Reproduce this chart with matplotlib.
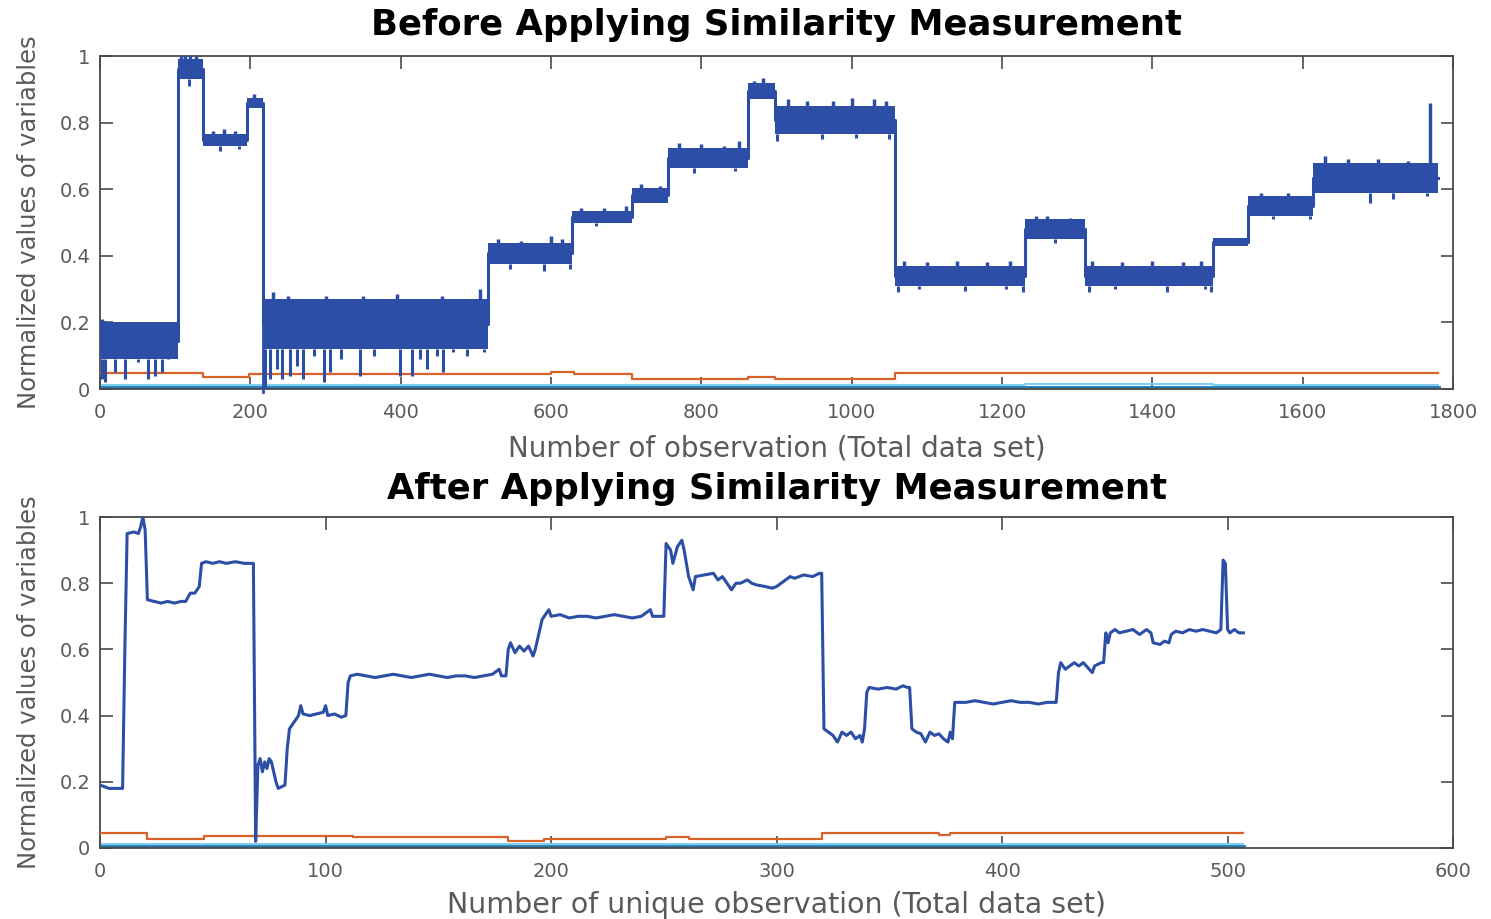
import matplotlib
matplotlib.use("Agg")
import matplotlib.pyplot as plt
import numpy as np

plt.rcParams['font.family'] = ['DejaVu Sans']

# ---- full data set (before similarity measurement) ----
# noisy plateaus: start, end, band low, band high
seg_start = [0, 104, 137, 195, 217, 516, 628, 707, 756, 862, 898, 1058, 1231, 1310, 1481, 1527, 1614]
seg_end = [104, 137, 195, 217, 516, 628, 707, 756, 862, 898, 1058, 1231, 1310, 1481, 1527, 1614, 1780]
seg_low = [0.09, 0.93, 0.73, 0.845, 0.12, 0.375, 0.50, 0.56, 0.665, 0.87, 0.765, 0.31, 0.45, 0.31, 0.43, 0.52, 0.59]
seg_high = [0.20, 0.99, 0.765, 0.875, 0.27, 0.44, 0.535, 0.605, 0.725, 0.92, 0.85, 0.37, 0.51, 0.37, 0.455, 0.58, 0.68]

# downward spikes
dip_x = [3, 7, 20, 33, 50, 64, 73, 82, 90, 118, 160, 185,
         219, 226, 235, 242, 253, 262, 270, 285, 298, 306, 320, 346, 365, 380,
         399, 415, 425, 435, 448, 456, 470, 488, 500, 511,
         545, 590, 625, 660, 790, 845, 900, 960, 1005, 1050,
         1062, 1090, 1150, 1205, 1228, 1270, 1315, 1350, 1420, 1470, 1478,
         1560, 1610, 1690, 1720, 1765]
dip_y = [0.03, 0.02, 0.05, 0.03, 0.08, 0.03, 0.04, 0.05, 0.10, 0.91, 0.715, 0.72,
         0.00, 0.03, 0.06, 0.03, 0.04, 0.07, 0.03, 0.10, 0.02, 0.05, 0.09, 0.04, 0.10, 0.12,
         0.04, 0.04, 0.09, 0.06, 0.10, 0.05, 0.11, 0.10, 0.12, 0.11,
         0.36, 0.355, 0.36, 0.49, 0.65, 0.655, 0.745, 0.75, 0.755, 0.75,
         0.29, 0.30, 0.295, 0.30, 0.29, 0.44, 0.29, 0.30, 0.29, 0.30, 0.29,
         0.51, 0.51, 0.56, 0.57, 0.58]
# upward spikes
peak_x = [2, 108, 113, 120, 128, 150, 165, 180, 205,
          230, 250, 300, 350, 395, 455, 505,
          530, 560, 600, 615, 640, 670, 700, 720, 745, 770, 800, 830, 850, 870, 882,
          915, 940, 975, 1000, 1030, 1045, 1070, 1100, 1140, 1180, 1210,
          1245, 1260, 1290, 1320, 1360, 1400, 1440, 1465,
          1545, 1580, 1630, 1660, 1700, 1740, 1769]
peak_y = [0.21, 1.0, 1.02, 1.01, 1.0, 0.775, 0.78, 0.775, 0.885,
          0.29, 0.28, 0.28, 0.28, 0.285, 0.28, 0.30,
          0.45, 0.445, 0.46, 0.45, 0.545, 0.545, 0.55, 0.615, 0.61, 0.74, 0.735, 0.73, 0.745, 0.925, 0.935,
          0.87, 0.865, 0.865, 0.875, 0.87, 0.865, 0.385, 0.38, 0.385, 0.38, 0.385,
          0.52, 0.52, 0.515, 0.385, 0.38, 0.385, 0.38, 0.385,
          0.59, 0.59, 0.70, 0.69, 0.69, 0.685, 0.86]

top_orange_x = [0, 137, 198, 600, 630, 707, 862, 898, 1058, 1780]
top_orange_y = [0.048, 0.037, 0.046, 0.050, 0.044, 0.030, 0.037, 0.030, 0.048, 0.048]

# ---- unique observations (after similarity measurement) ----
bx = [0, 4, 10, 11, 12, 15, 17, 18, 19, 20, 21, 24, 27, 30, 33, 36, 38, 40, 42, 44, 45, 47, 50, 53, 56, 60, 64,
      68, 69, 70, 71, 72, 73, 74, 75, 76, 78, 79, 82, 83, 84, 86, 88, 89, 90, 93, 96, 99, 100, 101, 104, 107,
      109, 110, 111, 114, 118, 122, 126, 130, 134, 138, 142, 146, 150, 154, 158, 162, 166, 170, 174, 177, 178,
      180, 181, 182, 184, 186, 188, 190, 192, 193, 196, 197, 199, 200, 204, 208, 212, 216, 220, 224, 228, 232, 236,
      240, 244, 245, 248, 250, 251, 253, 254, 256, 258, 259, 261, 263, 264, 268, 272, 274, 276, 278, 280, 282, 284,
      287, 289, 291, 295, 298, 300, 302, 304, 306, 308, 312, 316, 319, 320, 321, 323, 325, 327, 329, 331, 333,
      335, 337, 338, 339, 340, 341, 345, 349, 353, 356, 358, 359, 360, 362, 364, 366, 368, 370, 372, 374, 376, 377,
      378, 379, 384, 388, 392, 396, 400, 404, 408, 412, 416, 420, 424, 425, 426, 428, 430, 432, 434, 436, 438,
      440, 441, 444, 445, 446, 447, 448, 450, 452, 455, 458, 461, 464, 466, 467, 470, 472, 474, 475, 477, 480, 483,
      486, 489, 492, 495, 497, 498, 499, 500, 501, 503, 505, 507]
by = [0.19, 0.18, 0.18, 0.60, 0.95, 0.955, 0.95, 0.97, 1.0, 0.96, 0.75, 0.745, 0.74, 0.745, 0.74, 0.745,
      0.745, 0.77, 0.77, 0.79, 0.86, 0.865, 0.86, 0.865, 0.86, 0.865, 0.86,
      0.86, 0.02, 0.25, 0.27, 0.23, 0.26, 0.24, 0.27, 0.26, 0.20, 0.18, 0.19, 0.30, 0.36, 0.38, 0.40, 0.43,
      0.405, 0.40, 0.405, 0.41, 0.43, 0.40, 0.405, 0.395,
      0.40, 0.50, 0.52, 0.525, 0.52, 0.515, 0.52, 0.525, 0.52, 0.515, 0.52, 0.525, 0.52, 0.515, 0.52, 0.52,
      0.515, 0.52, 0.525, 0.54, 0.52,
      0.52, 0.60, 0.62, 0.59, 0.61, 0.595, 0.61, 0.58, 0.60, 0.69, 0.70, 0.72, 0.70, 0.705, 0.695, 0.70, 0.70,
      0.695, 0.70, 0.705, 0.70, 0.695,
      0.70, 0.72, 0.70, 0.70, 0.70, 0.92, 0.90, 0.86, 0.91, 0.93, 0.90, 0.82, 0.78, 0.82, 0.825, 0.83, 0.81, 0.82,
      0.80, 0.78, 0.80, 0.80,
      0.81, 0.80, 0.795, 0.79, 0.785, 0.79, 0.80, 0.81, 0.82, 0.815, 0.825, 0.82, 0.83, 0.83, 0.36, 0.35,
      0.34, 0.32, 0.35, 0.34, 0.35,
      0.33, 0.34, 0.32, 0.36, 0.47, 0.485, 0.48, 0.485, 0.48, 0.49, 0.485, 0.485, 0.36, 0.35, 0.345, 0.32, 0.35,
      0.34, 0.345, 0.33, 0.32, 0.35,
      0.33, 0.44, 0.44, 0.445, 0.44, 0.435, 0.44, 0.445, 0.44, 0.44, 0.435, 0.44, 0.44, 0.53, 0.56, 0.54,
      0.55, 0.56, 0.55, 0.56, 0.545,
      0.53, 0.55, 0.56, 0.56, 0.65, 0.62, 0.65, 0.66, 0.65, 0.655, 0.66, 0.645, 0.66, 0.65, 0.62, 0.615, 0.625,
      0.62, 0.645, 0.655, 0.65, 0.66,
      0.655, 0.66, 0.655, 0.65, 0.66, 0.87, 0.86, 0.66, 0.65, 0.66, 0.65, 0.65]

bot_orange_x = [0, 21, 46, 112, 181, 197, 251, 261, 320, 372, 377, 507]
bot_orange_y = [0.045, 0.027, 0.036, 0.032, 0.020, 0.027, 0.032, 0.027, 0.045, 0.040, 0.045, 0.045]

blue = '#2c4ea6'
orange = '#d9622b'
teal = '#2479ad'
cyan = '#7fd0f0'
tick_grey = '#5a5a5a'

fig = plt.figure(figsize=(14.91, 9.19), dpi=100)
ax1 = fig.add_axes([0.0671, 0.5767, 0.9075, 0.3623])
ax2 = fig.add_axes([0.0671, 0.0773, 0.9075, 0.3601])


def style(ax, xmax, xstep):
    ax.set_xlim(0, xmax)
    ax.set_ylim(0, 1)
    ax.set_xticks(np.arange(0, xmax + 1, xstep))
    ax.set_yticks([0, 0.2, 0.4, 0.6, 0.8, 1])
    ax.set_yticklabels(['0', '0.2', '0.4', '0.6', '0.8', '1'])
    ax.tick_params(direction='in', length=9, width=1.1, colors='#3a3a3a',
                   labelcolor=tick_grey, labelsize=14, top=True, right=True)
    ax.tick_params(axis='x', pad=10)
    ax.tick_params(axis='y', pad=7)
    for s in ax.spines.values():
        s.set_color('#4a4a4a')
        s.set_linewidth(1.3)
    ax.set_ylabel('Normalized values of variables', fontsize=17.5, color=tick_grey, labelpad=13)


# top panel
style(ax1, 1800, 200)
ax1.plot([0, 1780], [0.004, 0.004], color=teal, lw=3.5, zorder=2)
ax1.plot([0, 1231, 1231, 1481, 1481, 1780], [0.011, 0.011, 0.014, 0.014, 0.011, 0.011],
         color=cyan, lw=1.5, zorder=2)
ax1.step(top_orange_x, top_orange_y, where='post', color=orange, lw=1.6, zorder=3)

centre = [(lo + hi) / 2 for lo, hi in zip(seg_low, seg_high)]
for s0, s1, lo, hi in zip(seg_start, seg_end, seg_low, seg_high):
    ax1.fill_between([s0, s1], [lo, lo], [hi, hi], color=blue, lw=0, zorder=4)
ax1.step(seg_start + [seg_end[-1]], centre + [centre[-1]], where='post', color=blue, lw=2.2, zorder=4)
ax1.plot([217, 217], [0.2, -0.01], color=blue, lw=2, zorder=4, clip_on=False)
low_at = [seg_low[np.searchsorted(seg_start, x, side='right') - 1] for x in dip_x]
ax1.vlines(dip_x, dip_y, low_at, color=blue, lw=2.2, zorder=4)
high_at = [seg_high[np.searchsorted(seg_start, x, side='right') - 1] for x in peak_x]
ax1.vlines(peak_x, high_at, peak_y, color=blue, lw=2.5, zorder=4)

ax1.set_title('Before Applying Similarity Measurement', fontsize=25.5, fontweight='bold', pad=15)
ax1.set_xlabel('Number of observation (Total data set)', fontsize=20, color=tick_grey, labelpad=9)

# bottom panel
style(ax2, 600, 100)
ax2.plot([0, 507], [0.004, 0.004], color=teal, lw=3.5, zorder=2)
ax2.plot([0, 507], [0.011, 0.011], color=cyan, lw=1.5, zorder=2)
ax2.step(bot_orange_x, bot_orange_y, where='post', color=orange, lw=1.6, zorder=3)
ax2.plot(bx, by, color=blue, lw=2.2, zorder=4)

ax2.set_title('After Applying Similarity Measurement', fontsize=25.5, fontweight='bold', pad=13)
ax2.set_xlabel('Number of unique observation (Total data set)', fontsize=20.5, color=tick_grey, labelpad=7)

fig.savefig('out.png', dpi=100)
